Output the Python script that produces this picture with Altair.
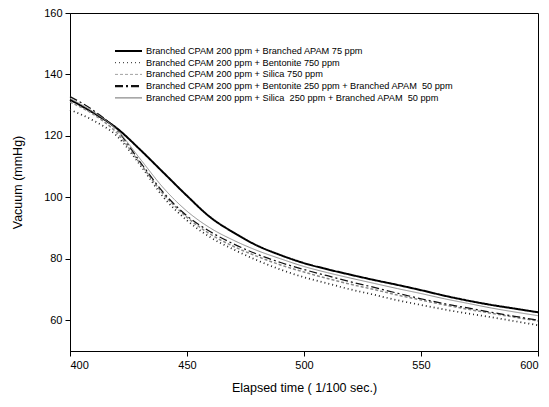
import altair as alt
import pandas as pd

time = [400, 410, 420, 430, 440, 450, 460, 470, 480, 490, 500,
        510, 520, 530, 540, 550, 560, 570, 580, 590, 600]

series_names = [
    "Branched CPAM 200 ppm + Branched APAM 75 ppm",
    "Branched CPAM 200 ppm + Bentonite 750 ppm",
    "Branched CPAM 200 ppm + Silica 750 ppm",
    "Branched CPAM 200 ppm + Bentonite 250 ppm + Branched APAM\u00a0 50 ppm",
    "Branched CPAM 200 ppm + Silica\u00a0 250 ppm + Branched APAM\u00a0 50 ppm",
]

apam75 = [131.8, 127.5, 122.5, 115.5, 108.0, 100.5, 93.5, 88.5, 84.3, 81.2, 78.6,
          76.6, 74.8, 73.1, 71.5, 69.8, 68.0, 66.4, 65.0, 63.8, 62.6]
bent750 = [128.5, 125.0, 120.0, 110.5, 100.0, 92.5, 87.0, 83.0, 79.5, 76.5, 74.0,
           72.0, 70.0, 68.3, 66.5, 65.0, 63.5, 62.2, 61.0, 59.7, 58.4]
sil750 = [131.0, 127.0, 121.0, 111.0, 101.0, 93.5, 88.0, 84.0, 80.8, 78.0, 75.7,
          73.6, 71.7, 70.0, 68.2, 66.6, 65.0, 63.6, 62.3, 61.0, 59.8]
bent250 = [132.8, 128.3, 122.0, 111.5, 101.5, 94.0, 88.8, 84.8, 81.5, 78.8, 76.5,
           74.5, 72.5, 70.7, 68.8, 67.0, 65.4, 64.0, 62.6, 61.3, 60.0]
sil250 = [132.2, 127.8, 122.0, 112.5, 103.0, 95.5, 90.0, 86.0, 82.7, 80.0, 77.5,
          75.5, 73.7, 72.0, 70.3, 68.7, 67.0, 65.5, 64.0, 62.7, 61.5]

all_values = [apam75, bent750, sil750, bent250, sil250]

# line styles per series (colour, dash, width)
colors = ["#000000", "#222222", "#8a8a8a", "#111111", "#8c8c8c"]
dashes = [[1, 0], [1, 3], [3, 2], [8, 3, 2, 3], [1, 0]]
widths = [2.0, 1.0, 0.8, 2.2, 1.3]

rows = []
for name, vals in zip(series_names, all_values):
    for t, v in zip(time, vals):
        rows.append({"series": name, "time": t, "vacuum": v})
df = pd.DataFrame(rows)

FONT = "Liberation Sans"

lines = alt.Chart(df).mark_line(interpolate="monotone").encode(
    x=alt.X("time:Q", title="Elapsed time ( 1/100 sec.)",
            scale=alt.Scale(domain=[400, 600], nice=False),
            axis=alt.Axis(values=[400, 450, 500, 550, 600], grid=False)),
    y=alt.Y("vacuum:Q", title="Vacuum (mmHg)",
            scale=alt.Scale(domain=[50, 160], nice=False, zero=False),
            axis=alt.Axis(values=[60, 80, 100, 120, 140, 160], grid=False)),
    color=alt.Color("series:N", sort=series_names,
                    scale=alt.Scale(domain=series_names, range=colors), legend=None),
    strokeDash=alt.StrokeDash("series:N", sort=series_names,
                              scale=alt.Scale(domain=series_names, range=dashes), legend=None),
    strokeWidth=alt.StrokeWidth("series:N", sort=series_names,
                                scale=alt.Scale(domain=series_names, range=widths), legend=None),
)

# manual legend (inside plot, top-left)
legend_layers = []
for i, name in enumerate(series_names):
    yy = 38 + i * 11.7
    legend_layers.append(
        alt.Chart(pd.DataFrame({"label": [name]})).mark_rule(
            color=colors[i], strokeDash=dashes[i], strokeWidth=widths[i]
        ).encode(x=alt.value(45), x2=alt.value(72), y=alt.value(yy))
    )
    legend_layers.append(
        alt.Chart(pd.DataFrame({"label": [name]})).mark_text(
            align="left", baseline="middle", font=FONT, fontSize=9.2, color="#000"
        ).encode(x=alt.value(76), y=alt.value(yy), text="label:N")
    )

chart = alt.layer(lines, *legend_layers).properties(
    width=468, height=338,
    autosize=alt.AutoSizeParams(type="none"),
    padding={"left": 62, "top": 5, "right": 3, "bottom": 48},
).configure_view(
    stroke="#000", strokeWidth=1
).configure_axis(
    domainColor="#000", tickColor="#000", labelColor="#000", titleColor="#000",
    labelFont=FONT, titleFont=FONT, labelFontSize=11, titleFontSize=12.5,
    titleFontWeight="normal", tickSize=5, labelPadding=3
).configure_axisX(
    titlePadding=11
).configure_axisY(
    titlePadding=19
)

chart.save("out.html", embed_options={"renderer": "svg", "actions": False})
